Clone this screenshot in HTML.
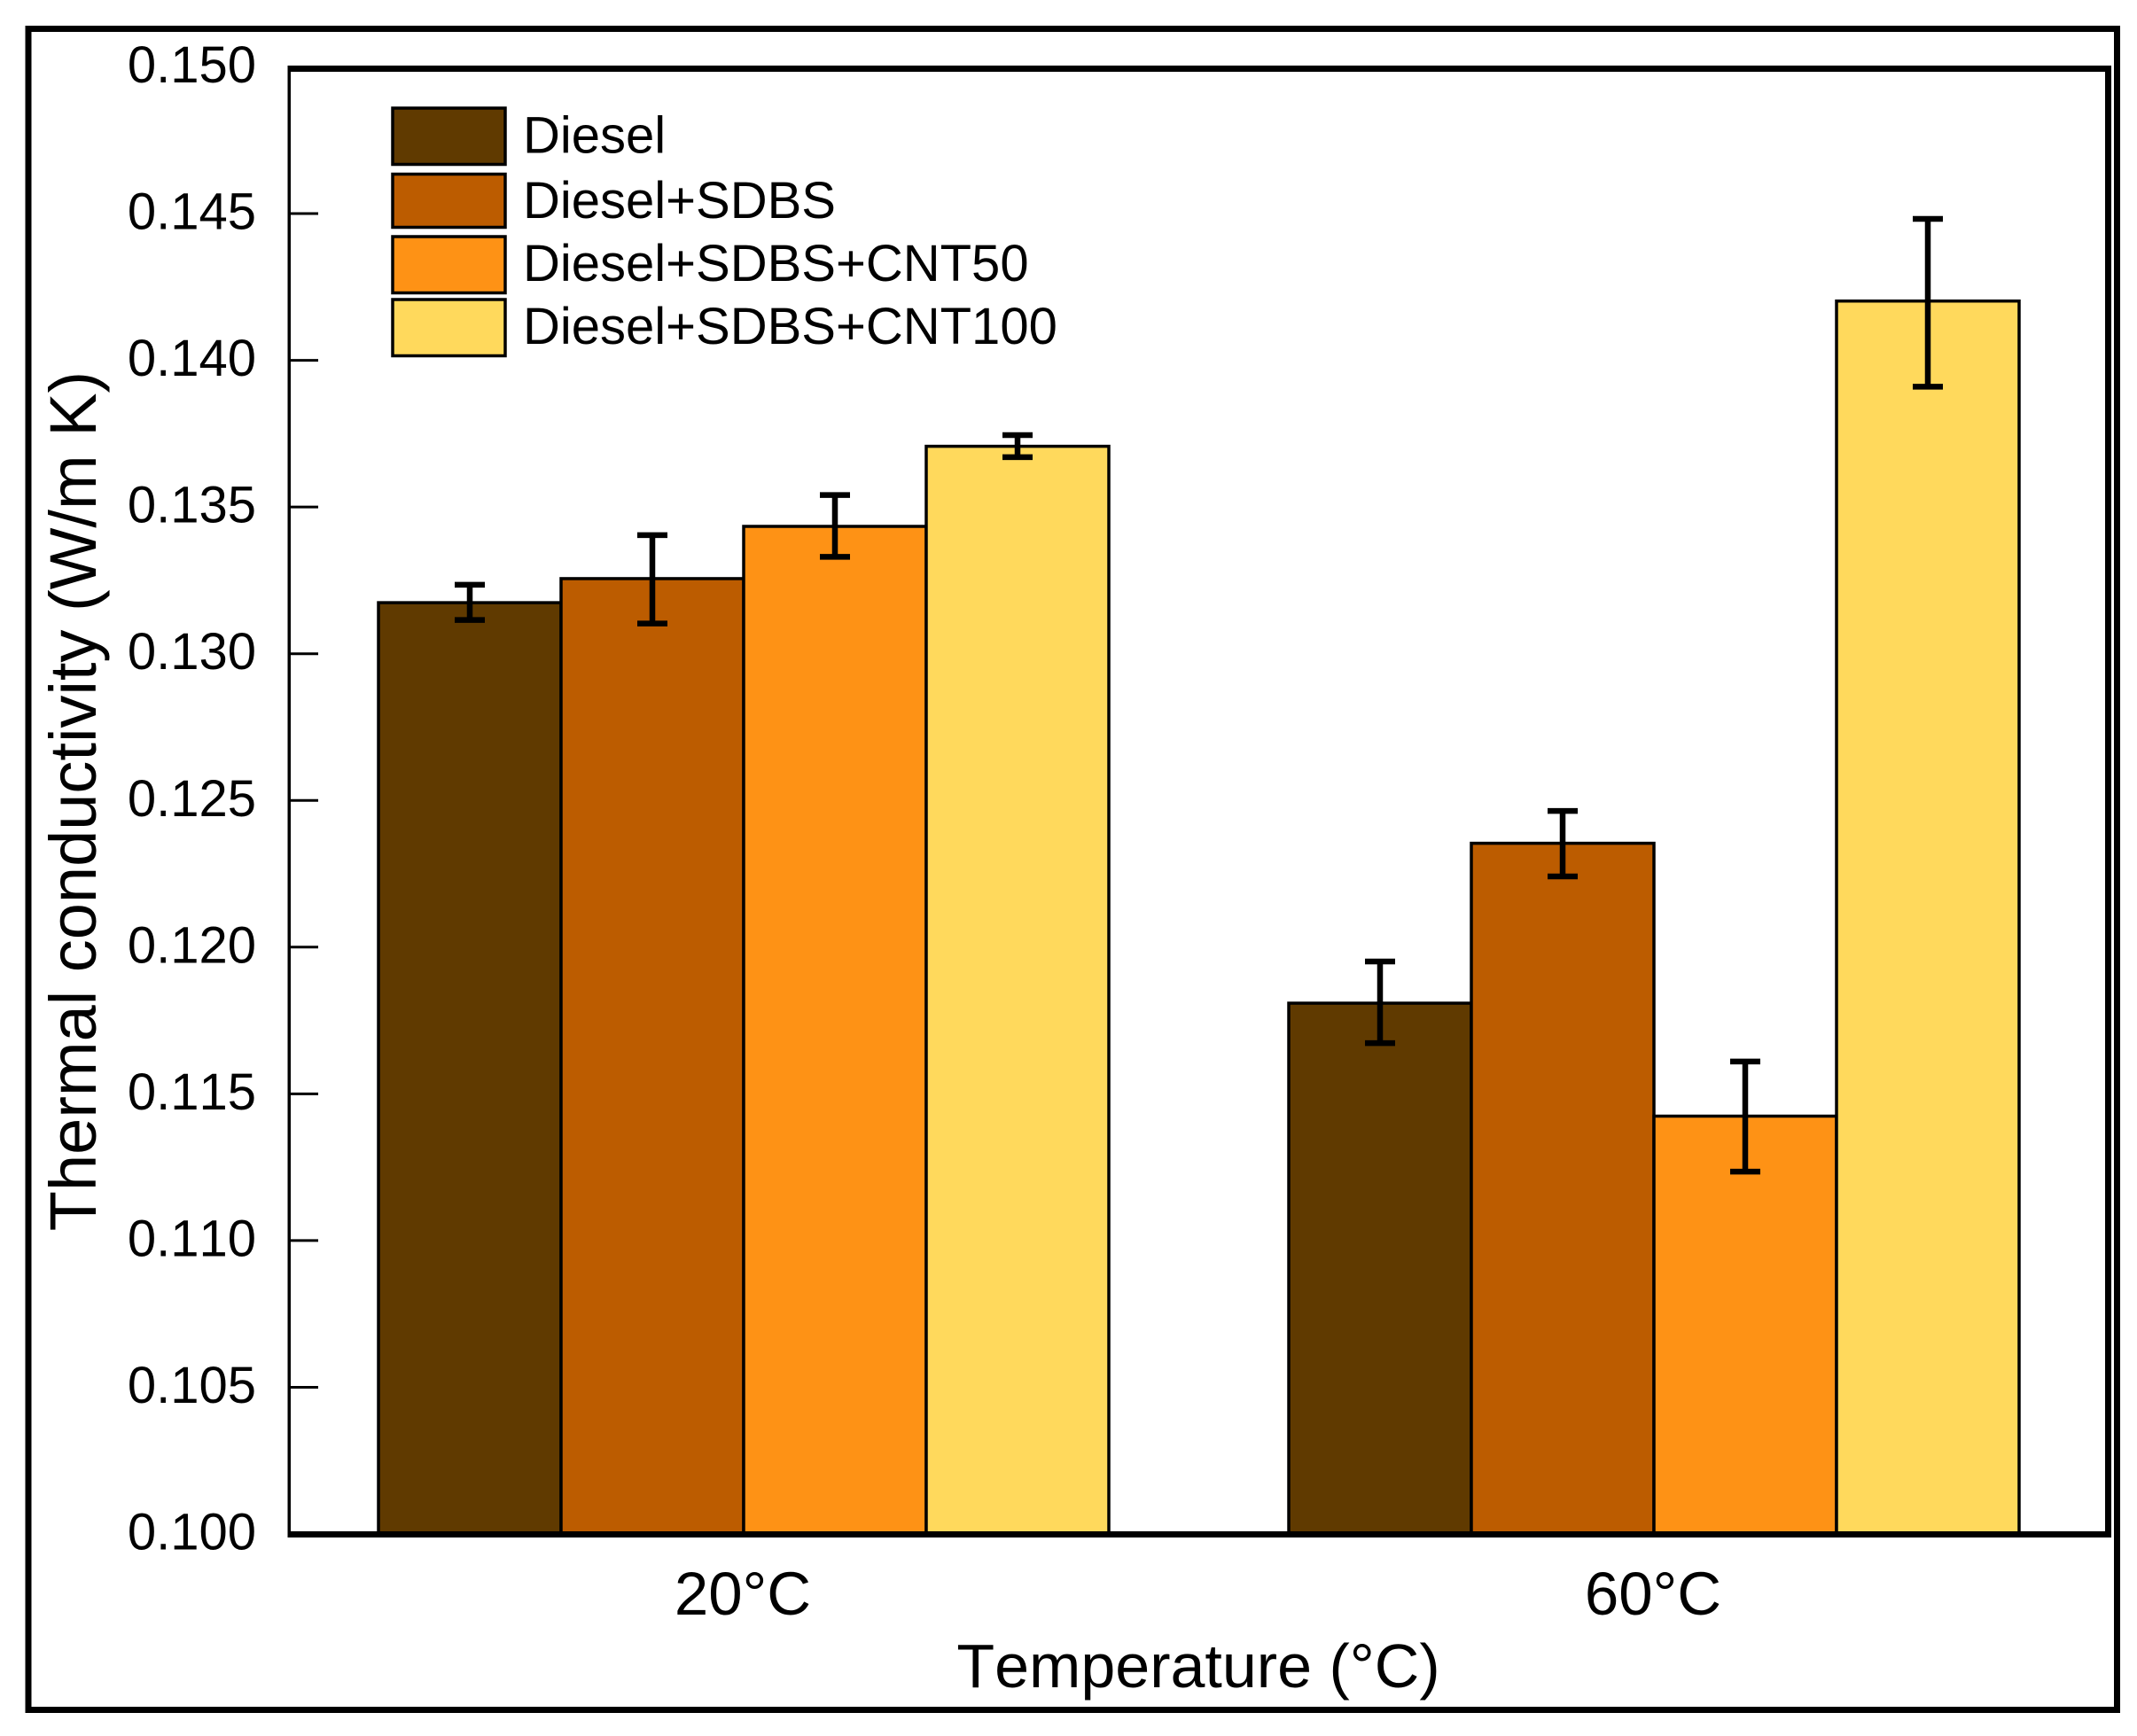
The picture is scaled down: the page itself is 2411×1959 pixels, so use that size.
<!DOCTYPE html>
<html lang="en">
<head>
<meta charset="utf-8">
<title>Thermal conductivity bar chart</title>
<style>
  html, body { margin: 0; padding: 0; background: #ffffff; }
  svg { display: block; }
  text { font-family: "Liberation Sans", Arial, sans-serif; fill: #000000; font-kerning: none; }
</style>
</head>
<body>
<svg id="chart" xmlns="http://www.w3.org/2000/svg" width="2411" height="1959" viewBox="0 0 2411 1959">
  <rect x="0" y="0" width="2411" height="1959" fill="#ffffff"/>
  <rect x="32" y="32.5" width="2356.5" height="1897" fill="none" stroke="#000000" stroke-width="7"/>
  <g id="bars"></g>
  <g id="errors"></g>
  <g id="y-ticks"></g>
  <g id="y-labels"></g>
  <g id="x-labels"></g>
  <rect x="324.5" y="74" width="3.5" height="1661" fill="#000000"/>
  <rect x="324.5" y="74" width="2057.5" height="7" fill="#000000"/>
  <rect x="2375" y="74" width="7" height="1661" fill="#000000"/>
  <rect x="324.5" y="1728" width="2057.5" height="7" fill="#000000"/>

  <g>
    <g>
      <rect x="443" y="122" width="127" height="63.5" fill="#603A00" stroke="#000000" stroke-width="3.5"/>
      <text x="590" y="172.5" font-size="58">Diesel</text>
    </g>
    <g>
      <rect x="443" y="196.5" width="127" height="60" fill="#BC5C00" stroke="#000000" stroke-width="3.5"/>
      <text x="590" y="246" font-size="58">Diesel+SDBS</text>
    </g>
    <g>
      <rect x="443" y="267" width="127" height="63.5" fill="#FE9215" stroke="#000000" stroke-width="3.5"/>
      <text x="590" y="317" font-size="58">Diesel+SDBS+CNT50</text>
    </g>
    <g>
      <rect x="443" y="338" width="127" height="63.5" fill="#FFD95C" stroke="#000000" stroke-width="3.5"/>
      <text x="590" y="388" font-size="58">Diesel+SDBS+CNT100</text>
    </g>
  </g>

  <text font-size="74" text-anchor="middle" transform="translate(108 904) rotate(-90)">Thermal conductivity (W/m K)</text>
  <text font-size="70" text-anchor="middle" x="1352" y="1904">Temperature (°C)</text>
</svg>

<script>
const categories = ['20°C', '60°C'];
const seriesNames = ['diesel', 'diesel-sdbs', 'diesel-sdbs-cnt50', 'diesel-sdbs-cnt100'];
const dieselValues = [0.13174, 0.11809];
const sdbsValues = [0.13256, 0.12354];
const cnt50Values = [0.13434, 0.11424];
const cnt100Values = [0.13707, 0.14202];
const dieselErrPlus = [0.00061, 0.00142];
const dieselErrMinus = [0.00059, 0.00136];
const sdbsErrPlus = [0.00148, 0.00110];
const sdbsErrMinus = [0.00153, 0.00113];
const cnt50ErrPlus = [0.00107, 0.00186];
const cnt50ErrMinus = [0.00104, 0.00189];
const cnt100ErrPlus = [0.00038, 0.00280];
const cnt100ErrMinus = [0.00037, 0.00292];
const yTickValues = [0.100, 0.105, 0.110, 0.115, 0.120, 0.125, 0.130, 0.135, 0.140, 0.145, 0.150];
const yTickLabels = ['0.100', '0.105', '0.110', '0.115', '0.120', '0.125', '0.130', '0.135', '0.140', '0.145', '0.150'];

const SVG_NS = 'http://www.w3.org/2000/svg';
const allValues = [dieselValues, sdbsValues, cnt50Values, cnt100Values];
const allPlus = [dieselErrPlus, sdbsErrPlus, cnt50ErrPlus, cnt100ErrPlus];
const allMinus = [dieselErrMinus, sdbsErrMinus, cnt50ErrMinus, cnt100ErrMinus];
const seriesFill = ['#603A00', '#BC5C00', '#FE9215', '#FFD95C'];

const Y_BASE = 1731;
const Y_TOP = 75.5;
const Y_MIN = 0.100;
const Y_MAX = 0.150;
const BAR_WIDTH = 206;

function yScale(v) {
  return Y_BASE - (v - Y_MIN) / (Y_MAX - Y_MIN) * (Y_BASE - Y_TOP);
}
function groupCenter(i) {
  return 839 + i * 1027;
}
function barLeft(i, s) {
  return groupCenter(i) - 2 * BAR_WIDTH + s * BAR_WIDTH;
}
function make(tag, parent, attrs) {
  const el = document.createElementNS(SVG_NS, tag);
  for (const k in attrs) el.setAttribute(k, attrs[k]);
  parent.appendChild(el);
  return el;
}

const barsGroup = document.getElementById('bars');
const errorsGroup = document.getElementById('errors');
const yTicksGroup = document.getElementById('y-ticks');
const yLabelsGroup = document.getElementById('y-labels');
const xLabelsGroup = document.getElementById('x-labels');

categories.forEach(function (cat, i) {
  seriesNames.forEach(function (name, s) {
    const value = allValues[s][i];
    const left = barLeft(i, s);
    const top = yScale(value);
    const bar = make('rect', barsGroup, {
      x: left, y: top, width: BAR_WIDTH, height: Y_BASE - top,
      fill: seriesFill[s], stroke: '#000000', 'stroke-width': 3.5
    });
    
    

    const cx = left + BAR_WIDTH / 2;
    const yHi = yScale(value + allPlus[s][i]);
    const yLo = yScale(value - allMinus[s][i]);
    const g = make('g', errorsGroup, { fill: 'none', stroke: '#000000' });
    
    
    make('line', g, { x1: cx, x2: cx, y1: yHi, y2: yLo, 'stroke-width': 6.5 });
    make('line', g, { x1: cx - 17, x2: cx + 17, y1: yHi, y2: yHi, 'stroke-width': 6.5 });
    make('line', g, { x1: cx - 17, x2: cx + 17, y1: yLo, y2: yLo, 'stroke-width': 6.5 });
  });

  const xLabel = make('text', xLabelsGroup, {
    x: groupCenter(i) - 1, y: 1822, 'font-size': 69, 'text-anchor': 'middle'
  });
  
  
  xLabel.textContent = cat;
});

yTickValues.forEach(function (v, i) {
  const y = yScale(v);
  const tick = make('line', yTicksGroup, {
    x1: 325, x2: 359, y1: y, y2: y, stroke: '#000000', 'stroke-width': 3
  });
  
  

  const label = make('text', yLabelsGroup, {
    x: 289, y: y + 17.5, 'font-size': 58, 'text-anchor': 'end'
  });
  
  
  label.textContent = yTickLabels[i];
});
</script>
</body>
</html>
